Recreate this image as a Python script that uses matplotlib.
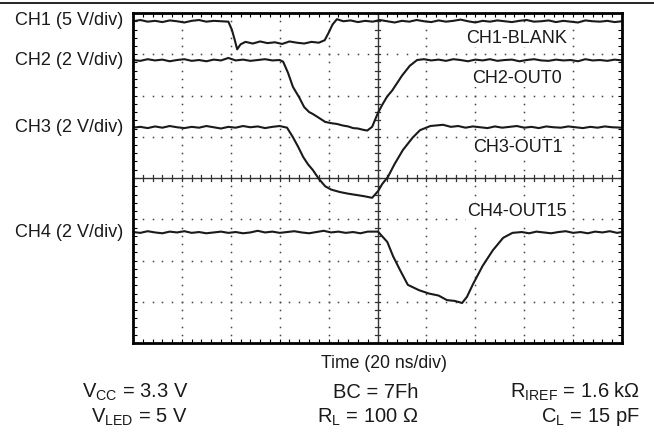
#!/usr/bin/env python3
"""Scope capture: output delay of OUT0/OUT1/OUT15 after BLANK goes low."""
import numpy as np
import matplotlib
matplotlib.use("Agg")
import matplotlib.pyplot as plt
from matplotlib.lines import Line2D

# ---- trace data, in screen divisions (x: 0..10 div, y: 0..8 div) ----
ch1_x = [0.0, 0.15, 0.3, 0.45, 0.6, 0.75, 0.9, 1.05, 1.2, 1.35, 1.5, 1.65, 1.8, 1.95,
         2.02, 2.08, 2.13, 2.2, 2.3, 2.45, 2.6, 2.75, 2.9, 3.05, 3.2, 3.35, 3.5, 3.65,
         3.8, 3.92, 4.0, 4.08, 4.17, 4.3, 4.45, 4.6, 4.75, 4.9, 5.05, 5.2, 5.35, 5.5,
         5.65, 5.8, 5.95, 6.1, 6.25, 6.4, 6.55, 6.7, 6.85, 7.0, 7.15, 7.3, 7.45, 7.6,
         7.75, 7.9, 8.05, 8.2, 8.35, 8.5, 8.65, 8.8, 8.95, 9.1, 9.25, 9.4, 9.55, 9.7,
         9.85, 10.0]
ch1_y = [7.80, 7.83, 7.79, 7.81, 7.78, 7.82, 7.80, 7.77, 7.81, 7.83, 7.79, 7.81, 7.80, 7.79,
         7.60, 7.35, 7.12, 7.24, 7.30, 7.26, 7.31, 7.27, 7.29, 7.25, 7.31, 7.28, 7.26, 7.30,
         7.28, 7.34, 7.52, 7.72, 7.85, 7.80, 7.82, 7.78, 7.81, 7.79, 7.83, 7.80, 7.77, 7.81,
         7.79, 7.83, 7.80, 7.78, 7.82, 7.79, 7.81, 7.84, 7.80, 7.77, 7.81, 7.79, 7.82, 7.80,
         7.78, 7.81, 7.83, 7.79, 7.80, 7.82, 7.78, 7.81, 7.79, 7.77, 7.82, 7.80, 7.79, 7.81,
         7.78, 7.80]

ch2_x = [0.0, 0.15, 0.3, 0.45, 0.6, 0.75, 0.9, 1.05, 1.2, 1.35, 1.5, 1.65, 1.8, 1.95,
         2.1, 2.25, 2.4, 2.55, 2.7, 2.85, 3.0, 3.07, 3.17, 3.27, 3.4, 3.5, 3.6, 3.68,
         3.8, 3.93, 4.05, 4.17, 4.3, 4.4, 4.5, 4.6, 4.7, 4.79, 4.89, 5.01, 5.1, 5.2,
         5.3, 5.4, 5.5, 5.66, 5.81, 5.95, 6.1, 6.25, 6.4, 6.55, 6.7, 6.85, 7.0, 7.15,
         7.3, 7.45, 7.6, 7.75, 7.9, 8.05, 8.2, 8.35, 8.5, 8.65, 8.8, 8.95, 9.1, 9.25,
         9.4, 9.55, 9.7, 9.85, 10.0]
ch2_y = [6.86, 6.84, 6.88, 6.85, 6.87, 6.83, 6.86, 6.88, 6.84, 6.86, 6.83, 6.87, 6.85, 6.91,
         6.85, 6.87, 6.84, 6.86, 6.88, 6.85, 6.86, 6.82, 6.55, 6.21, 5.95, 5.72, 5.60, 5.55,
         5.46, 5.36, 5.33, 5.31, 5.27, 5.25, 5.21, 5.20, 5.17, 5.15, 5.24, 5.58, 5.78, 5.98,
         6.12, 6.30, 6.48, 6.72, 6.86, 6.88, 6.85, 6.87, 6.84, 6.88, 6.86, 6.83, 6.87, 6.85,
         6.88, 6.84, 6.86, 6.87, 6.83, 6.86, 6.88, 6.85, 6.84, 6.87, 6.85, 6.86, 6.83, 6.88,
         6.85, 6.86, 6.84, 6.87, 6.85]

ch3_x = [0.0, 0.15, 0.3, 0.45, 0.6, 0.75, 0.9, 1.05, 1.2, 1.35, 1.5, 1.65, 1.8, 1.95,
         2.1, 2.25, 2.4, 2.55, 2.7, 2.85, 3.0, 3.15, 3.27, 3.38, 3.48, 3.58, 3.68, 3.8,
         3.93, 4.05, 4.23, 4.4, 4.56, 4.72, 4.89, 5.01, 5.1, 5.21, 5.35, 5.52, 5.72,
         5.87, 6.08, 6.34, 6.5, 6.65, 6.8, 6.95, 7.1, 7.25, 7.4, 7.55, 7.7, 7.85, 8.0,
         8.15, 8.3, 8.45, 8.6, 8.75, 8.9, 9.05, 9.2, 9.35, 9.5, 9.65, 9.8, 10.0]
ch3_y = [5.22, 5.24, 5.21, 5.25, 5.22, 5.26, 5.23, 5.21, 5.24, 5.22, 5.26, 5.23, 5.20, 5.24,
         5.22, 5.26, 5.23, 5.25, 5.21, 5.24, 5.26, 5.22, 4.99, 4.75, 4.51, 4.33, 4.19, 3.98,
         3.80, 3.72, 3.66, 3.62, 3.59, 3.56, 3.52, 3.68, 3.86, 4.02, 4.34, 4.68, 4.98,
         5.16, 5.26, 5.29, 5.24, 5.26, 5.22, 5.25, 5.23, 5.21, 5.25, 5.22, 5.24, 5.26, 5.22,
         5.24, 5.21, 5.25, 5.23, 5.22, 5.25, 5.23, 5.21, 5.24, 5.22, 5.25, 5.23, 5.22]

ch4_x = [0.0, 0.15, 0.3, 0.45, 0.6, 0.75, 0.9, 1.05, 1.2, 1.35, 1.5, 1.65, 1.8, 1.95,
         2.1, 2.25, 2.4, 2.55, 2.7, 2.85, 3.0, 3.15, 3.3, 3.45, 3.6, 3.75, 3.9, 4.05,
         4.2, 4.35, 4.5, 4.65, 4.8, 5.01, 5.2, 5.32, 5.46, 5.62, 5.85, 6.05, 6.25, 6.42,
         6.58, 6.73, 6.83, 6.95, 7.15, 7.36, 7.57, 7.76, 7.95, 8.1, 8.25, 8.4, 8.55,
         8.7, 8.85, 9.0, 9.15, 9.3, 9.45, 9.6, 9.75, 9.9, 10.0]
ch4_y = [2.69, 2.67, 2.71, 2.68, 2.66, 2.70, 2.68, 2.71, 2.67, 2.69, 2.66, 2.68, 2.70, 2.67,
         2.69, 2.66, 2.68, 2.72, 2.68, 2.70, 2.67, 2.69, 2.71, 2.68, 2.66, 2.69, 2.72, 2.68,
         2.70, 2.67, 2.69, 2.66, 2.70, 2.70, 2.45, 2.10, 1.77, 1.41, 1.28, 1.20, 1.15, 1.04,
         1.02, 0.97, 1.12, 1.42, 1.87, 2.25, 2.55, 2.67, 2.69, 2.66, 2.70, 2.68, 2.66,
         2.69, 2.71, 2.67, 2.69, 2.66, 2.70, 2.68, 2.71, 2.67, 2.69]

ch_labels = ["CH1 (5 V/div)", "CH2 (2 V/div)", "CH3 (2 V/div)", "CH4 (2 V/div)"]
ch_label_y = [7.81, 6.86, 5.23, 2.69]
trace_names = ["CH1-BLANK", "CH2-OUT0", "CH3-OUT1", "CH4-OUT15"]
trace_name_pos = [(7.85, 7.39), (7.85, 6.42), (7.87, 4.75), (7.85, 3.18)]

x_label = "Time (20 ns/div)"
cond_rows = [
    ["V$_{\\mathregular{CC}}$ = 3.3 V", "BC = 7Fh", "R$_{\\mathregular{IREF}}$ = 1.6 kΩ"],
    ["V$_{\\mathregular{LED}}$ = 5 V", "R$_{\\mathregular{L}}$ = 100 Ω", "C$_{\\mathregular{L}}$ = 15 pF"],
]

plt.rcParams["font.family"] = ["Liberation Sans", "DejaVu Sans"]
plt.rcParams["mathtext.fontset"] = "custom"
plt.rcParams["mathtext.rm"] = "Liberation Sans"

fig = plt.figure(figsize=(6.54, 4.38), dpi=100)
ax = fig.add_axes([133 / 654, 95 / 438, 489 / 654, 330 / 438])
ax.set_xlim(0, 10)
ax.set_ylim(0, 8)

# dotted graticule (dots every 0.2 div)
fine_x = np.arange(0, 10.01, 0.2)
fine_y = np.arange(0, 8.01, 0.2)
for gx in range(1, 10):
    if gx == 5:
        continue
    ax.plot(np.full_like(fine_y, gx), fine_y, ls="none", marker="s", ms=1.1,
            color="#444444", mew=0)
for gy in range(1, 8):
    if gy == 4:
        continue
    ax.plot(fine_x, np.full_like(fine_x, gy), ls="none", marker="s", ms=1.1,
            color="#444444", mew=0)

# centre crosshair with minor ticks
ax.axhline(4, color="#333333", lw=1.0)
ax.axvline(5, color="#333333", lw=1.0)
for fx in fine_x:
    ax.plot([fx, fx], [4 - 0.07, 4 + 0.07], color="#333333", lw=0.9)
for fy in fine_y:
    ax.plot([5 - 0.05, 5 + 0.05], [fy, fy], color="#333333", lw=0.9)

# traces
for xs, ys in [(ch1_x, ch1_y), (ch2_x, ch2_y), (ch3_x, ch3_y), (ch4_x, ch4_y)]:
    ax.plot(xs, ys, color="#1a1a1a", lw=1.5, solid_joinstyle="round")

for name, (tx, ty) in zip(trace_names, trace_name_pos):
    ax.text(tx, ty, name, ha="center", va="center", fontsize=13, color="#1a1a1a",
            bbox=dict(facecolor="white", edgecolor="none", pad=0.5))

for lab, ly in zip(ch_labels, ch_label_y):
    ax.text(-0.2, ly, lab, ha="right", va="center", fontsize=13, color="#1a1a1a",
            clip_on=False)

# frame with inward ticks on every edge
for sp in ax.spines.values():
    sp.set_linewidth(2.0)
    sp.set_color("black")
ax.set_xticks(range(0, 11))
ax.set_yticks(range(0, 9))
ax.set_xticks(fine_x, minor=True)
ax.set_yticks(fine_y, minor=True)
ax.tick_params(which="both", direction="in", top=True, right=True,
               labelbottom=False, labelleft=False, length=3, width=0.8)

fig.text(384 / 654, 1 - 364 / 438, x_label, ha="center", va="center",
         fontsize=12.7, color="#1a1a1a")

row_y = [392, 417]
for row, py in zip(cond_rows, row_y):
    fy = 1 - py / 438
    fig.text(188 / 654, fy, row[0], ha="right", va="center", fontsize=14.5, color="#1a1a1a")
    fig.text(418 / 654, fy, row[1], ha="right", va="center", fontsize=14.5, color="#1a1a1a")
    fig.text(640 / 654, fy, row[2], ha="right", va="center", fontsize=14.5, color="#1a1a1a")

# rule across the top of the figure
fig.add_artist(Line2D([0, 1], [1 - 3 / 438, 1 - 3 / 438], color="black", lw=1.2))

fig.savefig("out.png", dpi=100)
